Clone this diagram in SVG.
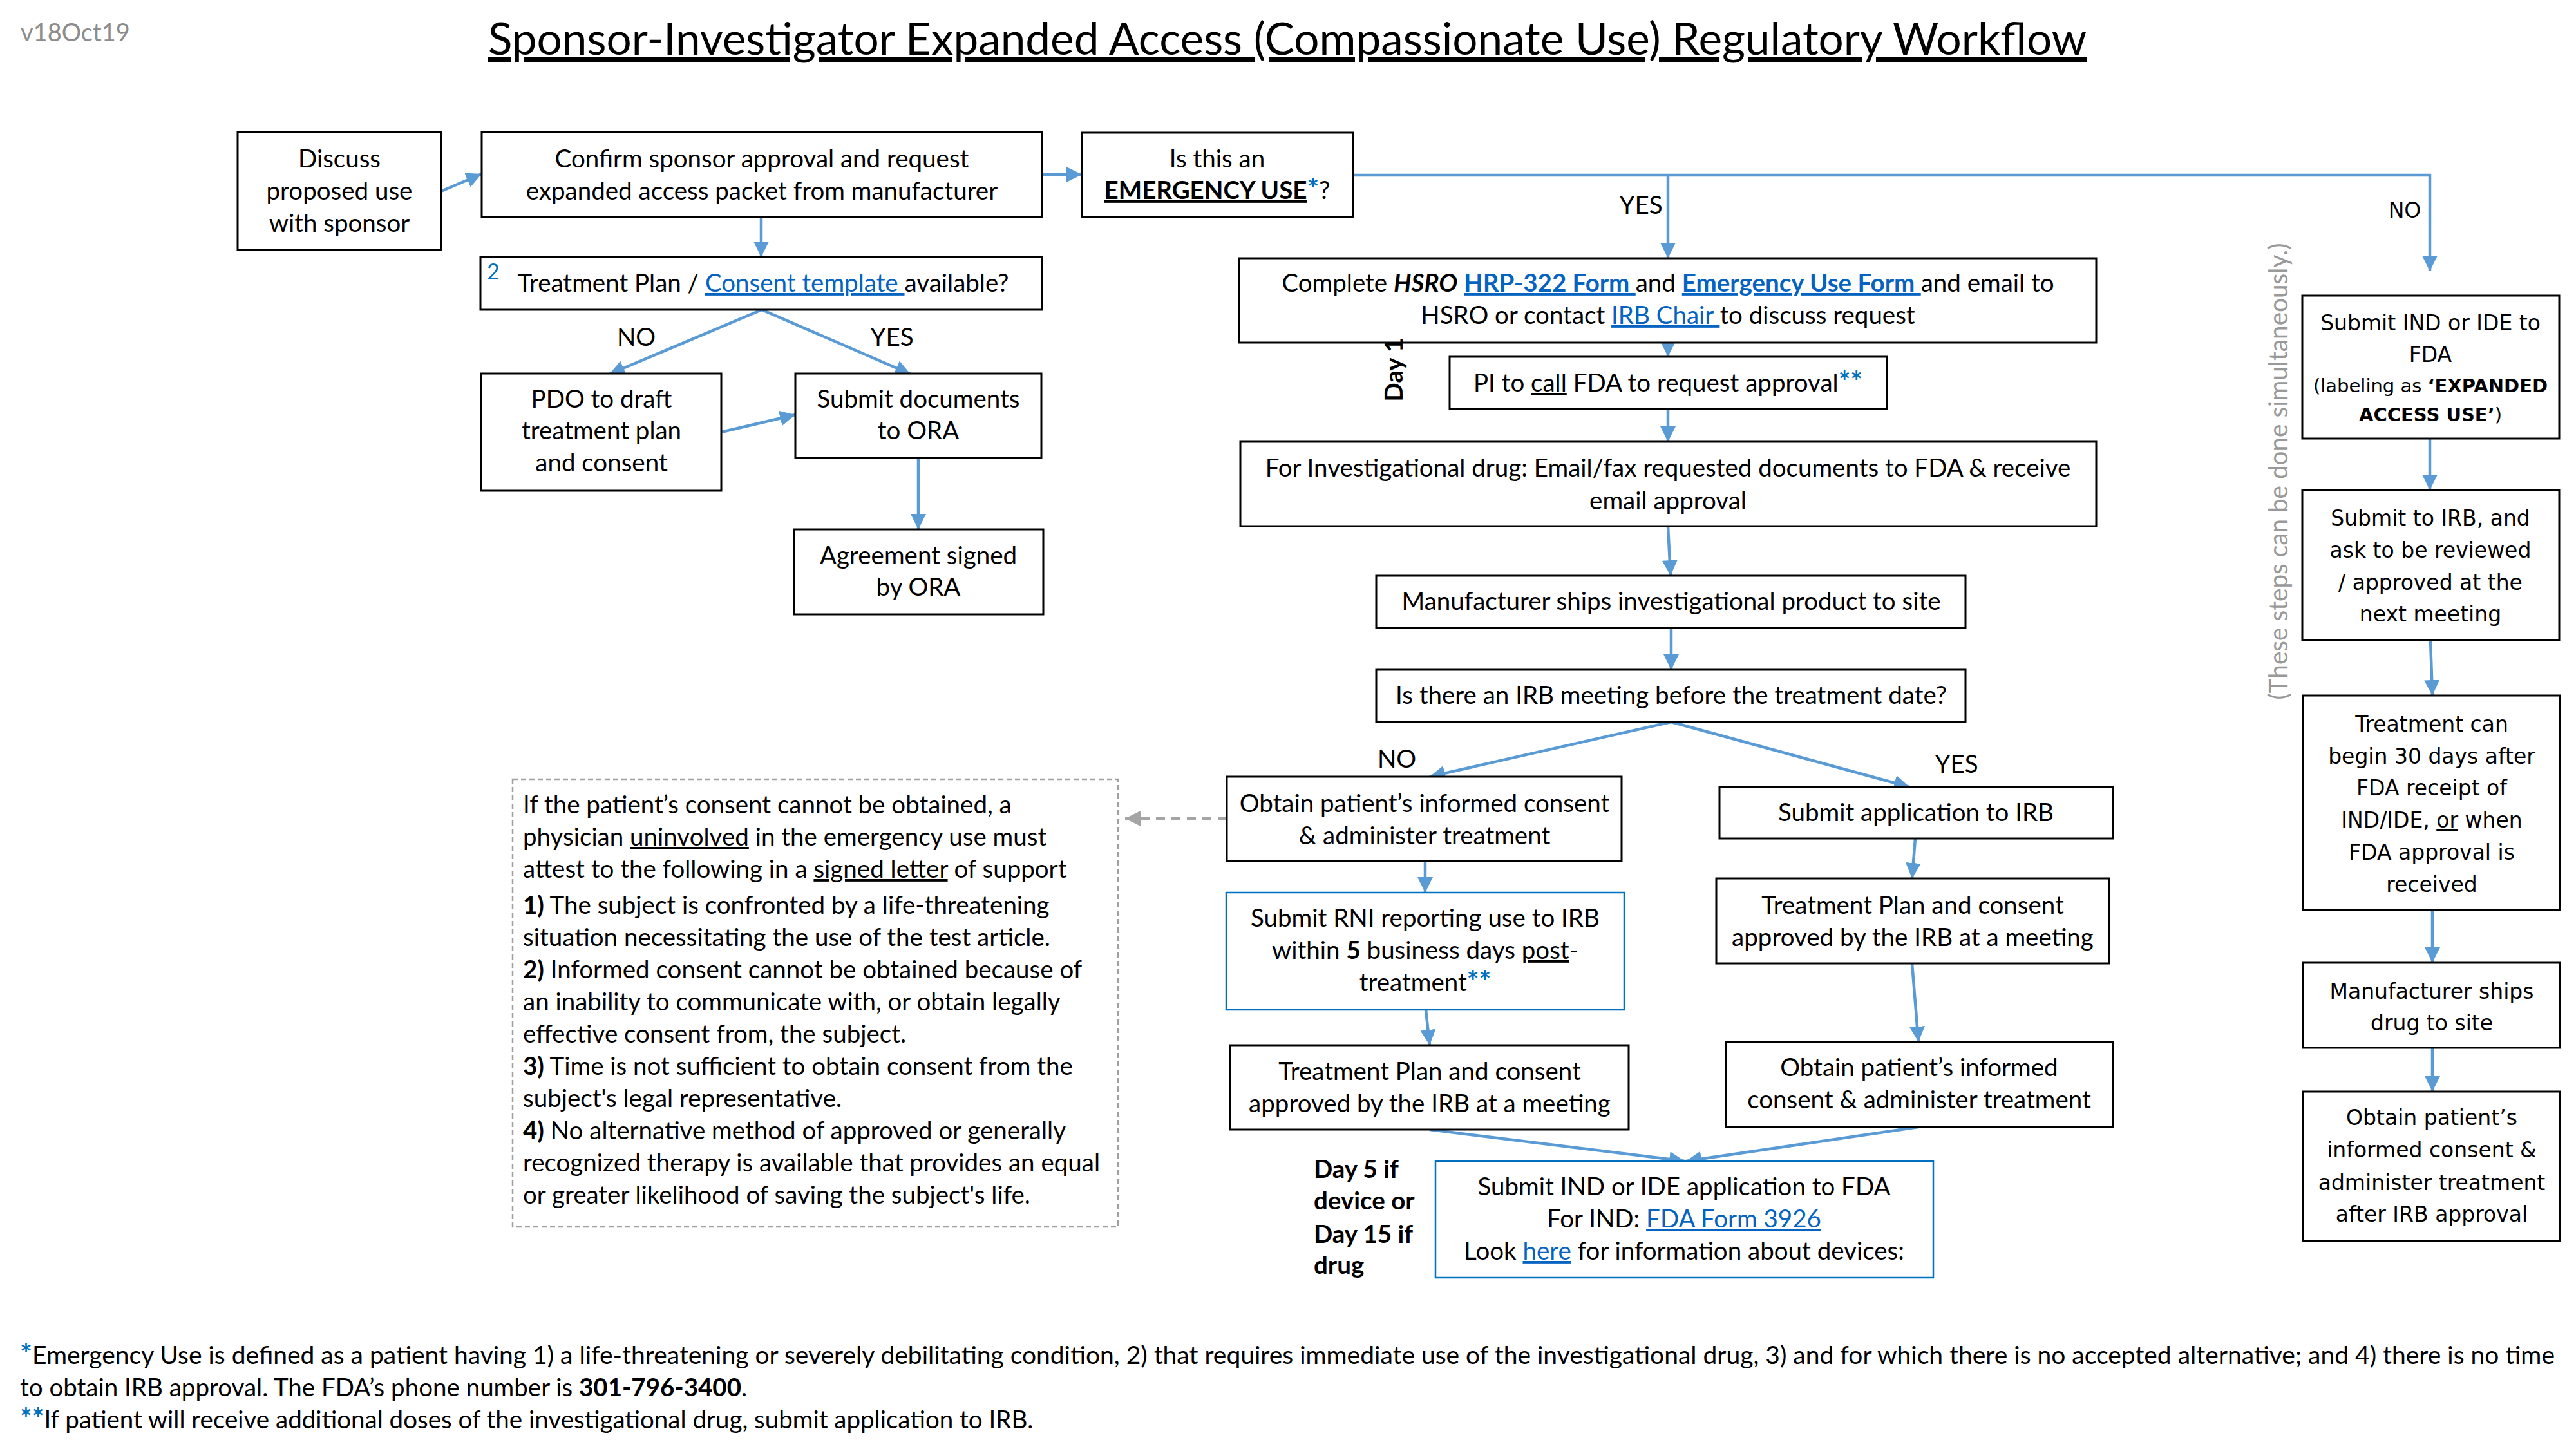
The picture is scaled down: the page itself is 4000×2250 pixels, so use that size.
<svg xmlns="http://www.w3.org/2000/svg" width="4000" height="2250" viewBox="0 0 4000 2250">
<style>
.c{font-family:Lato,"Liberation Sans",sans-serif;font-size:38.5px;fill:#000}
.v{font-family:"DejaVu Sans",Verdana,sans-serif;font-size:33px;fill:#000}
.m{text-anchor:middle}
.b{font-weight:bold}
.u{text-decoration:underline}
.lk{fill:#0563C1;text-decoration:underline}
.as{fill:#0070C0;font-weight:bold;font-size:44px}
.box{fill:#fff;stroke:#000;stroke-width:3}
.bbox{fill:#fff;stroke:#0070C0;stroke-width:2.5}
.conn{fill:none;stroke:#5B9BD5;stroke-width:4.5;marker-end:url(#arr)}
.dconn{fill:none;stroke:#A5A5A5;stroke-width:5;stroke-dasharray:14 10;marker-end:url(#garr)}
</style>
<defs>
<marker id="arr" markerUnits="userSpaceOnUse" markerWidth="24" markerHeight="24" refX="24" refY="12" orient="auto" viewBox="0 0 24 24"><path d="M0,0 L24,12 L0,24 z" fill="#5B9BD5"/></marker>
<marker id="garr" markerUnits="userSpaceOnUse" markerWidth="24" markerHeight="24" refX="24" refY="12" orient="auto" viewBox="0 0 24 24"><path d="M0,0 L24,12 L0,24 z" fill="#A5A5A5"/></marker>
</defs>
<rect width="4000" height="2250" fill="#fff"/>

<text class="c" x="32" y="64" style="fill:#8C8C8C;font-size:38px">v18Oct19</text>
<text class="c u" x="758" y="85" textLength="2482" lengthAdjust="spacingAndGlyphs" style="font-size:70px">Sponsor-Investigator Expanded Access (Compassionate Use) Regulatory Workflow</text>

<g id="connectors">
<path class="conn" d="M685,297 L748,270"/>
<path class="conn" d="M1618,271 L1680,271"/>
<path class="conn" d="M1182,337 L1182,399"/>
<path class="conn" d="M2101,272 L3773,272 L3773,421"/>
<path class="conn" d="M2590,272 L2590,401"/>
<path class="conn" d="M1183,481 L946,581"/>
<path class="conn" d="M1183,481 L1414,581"/>
<path class="conn" d="M1120,671 L1235,644"/>
<path class="conn" d="M1426,711 L1426,822"/>
<path class="conn" d="M2590,532 L2590,554"/>
<path class="conn" d="M2590,635 L2590,686"/>
<path class="conn" d="M2590,817 L2594,894"/>
<path class="conn" d="M2595,975 L2595,1040"/>
<path class="conn" d="M2595,1121 L2220,1206"/>
<path class="conn" d="M2595,1121 L2965,1222"/>
<path class="conn" d="M2213,1337 L2213,1386"/>
<path class="conn" d="M2214,1568 L2220,1623"/>
<path class="conn" d="M2974,1302 L2969,1364"/>
<path class="conn" d="M2969,1496 L2979,1618"/>
<path class="conn" d="M2220,1754 L2616,1803"/>
<path class="conn" d="M2979,1750 L2618,1803"/>
<path class="conn" d="M3773,681 L3773,761"/>
<path class="conn" d="M3774,994 L3777,1080"/>
<path class="conn" d="M3777,1413 L3777,1495"/>
<path class="conn" d="M3777,1627 L3777,1695"/>
<path class="dconn" d="M1905,1271 L1747,1271"/>
</g>

<g id="labels">
<text class="c m" x="2548" y="332">YES</text>
<text class="v m" x="3734" y="338">NO</text>
<text class="c m" x="988" y="537">NO</text>
<text class="c m" x="1385" y="537">YES</text>
<text class="c m" x="2169" y="1192">NO</text>
<text class="c m" x="3038" y="1200">YES</text>
</g>

<g id="n-discuss">
<rect class="box" x="369" y="205" width="316" height="183"/>
<text class="c m" x="527" y="260">Discuss</text>
<text class="c m" x="527" y="310">proposed use</text>
<text class="c m" x="527" y="360">with sponsor</text>
</g>
<g id="n-confirm">
<rect class="box" x="748" y="205" width="870" height="132"/>
<text class="c m" x="1183" y="260">Confirm sponsor approval and request</text>
<text class="c m" x="1183" y="310">expanded access packet from manufacturer</text>
</g>
<g id="n-emergency">
<rect class="box" x="1680" y="206" width="421" height="131"/>
<text class="c m" x="1890" y="260">Is this an</text>
<text class="c m" x="1890" y="309"><tspan class="b u">EMERGENCY USE</tspan><tspan class="as">*</tspan>?</text>
</g>
<g id="n-template">
<rect class="box" x="746" y="399" width="872" height="82"/>
<text class="c" x="756" y="434" style="fill:#0070C0;font-size:34px">2</text>
<text class="c m" x="1185" y="453">Treatment Plan / <tspan class="lk">Consent template </tspan>available?</text>
</g>
<g id="n-pdo">
<rect class="box" x="747" y="580" width="373" height="182"/>
<text class="c m" x="934" y="633">PDO to draft</text>
<text class="c m" x="934" y="682">treatment plan</text>
<text class="c m" x="934" y="732">and consent</text>
</g>
<g id="n-submitdocs">
<rect class="box" x="1235" y="580" width="382" height="131"/>
<text class="c m" x="1426" y="633">Submit documents</text>
<text class="c m" x="1426" y="682">to ORA</text>
</g>
<g id="n-agreement">
<rect class="box" x="1233" y="822" width="387" height="132"/>
<text class="c m" x="1426" y="876">Agreement signed</text>
<text class="c m" x="1426" y="925">by ORA</text>
</g>

<g id="n-complete">
<rect class="box" x="1924" y="401" width="1331" height="131"/>
<text class="c m" x="2590" y="453">Complete <tspan class="b" font-style="italic">HSRO</tspan> <tspan class="lk b">HRP-322 Form </tspan>and <tspan class="lk b">Emergency Use Form </tspan>and email to</text>
<text class="c m" x="2590" y="503">HSRO or contact <tspan class="lk">IRB Chair </tspan>to discuss request</text>
</g>
<g id="day1">
<text class="c m b" transform="translate(2178,574) rotate(-90)" x="0" y="0">Day 1</text>
</g>
<g id="n-pi">
<rect class="box" x="2251" y="554" width="679" height="81"/>
<text class="c m" x="2590" y="608">PI to <tspan class="u">call</tspan> FDA to request approval<tspan class="as">**</tspan></text>
</g>
<g id="n-forinv">
<rect class="box" x="1926" y="686" width="1329" height="131"/>
<text class="c m" x="2590" y="740">For Investigational drug: Email/fax requested documents to FDA &amp; receive</text>
<text class="c m" x="2590" y="791">email approval</text>
</g>
<g id="n-manuf">
<rect class="box" x="2137" y="894" width="915" height="81"/>
<text class="c m" x="2595" y="947">Manufacturer ships investigational product to site</text>
</g>
<g id="n-irbq">
<rect class="box" x="2137" y="1040" width="915" height="81"/>
<text class="c m" x="2595" y="1093">Is there an IRB meeting before the treatment date?</text>
</g>
<g id="n-obtain1">
<rect class="box" x="1905" y="1206" width="613" height="131"/>
<text class="c m" x="2212" y="1261">Obtain patient’s informed consent</text>
<text class="c m" x="2212" y="1311">&amp; administer treatment</text>
</g>
<g id="n-rni">
<rect class="bbox" x="1904" y="1386" width="618" height="182"/>
<text class="c m" x="2213" y="1439">Submit RNI reporting use to IRB</text>
<text class="c m" x="2213" y="1489">within <tspan class="b">5</tspan> business days <tspan class="u">post</tspan>-</text>
<text class="c m" x="2213" y="1539">treatment<tspan class="as">**</tspan></text>
</g>
<g id="n-tp1">
<rect class="box" x="1910" y="1623" width="619" height="131"/>
<text class="c m" x="2220" y="1677">Treatment Plan and consent</text>
<text class="c m" x="2220" y="1727">approved by the IRB at a meeting</text>
</g>
<g id="n-submitapp">
<rect class="box" x="2670" y="1222" width="611" height="80"/>
<text class="c m" x="2975" y="1275">Submit application to IRB</text>
</g>
<g id="n-tp2">
<rect class="box" x="2665" y="1364" width="610" height="132"/>
<text class="c m" x="2970" y="1419">Treatment Plan and consent</text>
<text class="c m" x="2970" y="1469">approved by the IRB at a meeting</text>
</g>
<g id="n-obtain2">
<rect class="box" x="2680" y="1618" width="601" height="132"/>
<text class="c m" x="2980" y="1671">Obtain patient’s informed</text>
<text class="c m" x="2980" y="1721">consent &amp; administer treatment</text>
</g>
<g id="day5">
<text class="c b" x="2040" y="1829">Day 5 if</text>
<text class="c b" x="2040" y="1878">device or</text>
<text class="c b" x="2040" y="1930">Day 15 if</text>
<text class="c b" x="2040" y="1978">drug</text>
</g>
<g id="n-submitind">
<rect class="bbox" x="2229" y="1803" width="773" height="181"/>
<text class="c m" x="2615" y="1856">Submit IND or IDE application to FDA</text>
<text class="c m" x="2615" y="1906">For IND: <tspan class="lk">FDA Form 3926</tspan></text>
<text class="c m" x="2615" y="1956">Look <tspan class="lk">here</tspan> for information about devices:</text>
</g>

<g id="n-note">
<rect x="796" y="1210" width="940" height="695" fill="#fff" stroke="#A0A0A0" stroke-width="2.5" stroke-dasharray="8 5"/>
<text class="c" x="812" y="1263">If the patient’s consent cannot be obtained, a</text>
<text class="c" x="812" y="1313">physician <tspan class="u">uninvolved</tspan> in the emergency use must</text>
<text class="c" x="812" y="1363">attest to the following in a <tspan class="u">signed letter</tspan> of support</text>
<text class="c" x="812" y="1419"><tspan class="b">1)</tspan> The subject is confronted by a life-threatening</text>
<text class="c" x="812" y="1469">situation necessitating the use of the test article.</text>
<text class="c" x="812" y="1519"><tspan class="b">2)</tspan> Informed consent cannot be obtained because of</text>
<text class="c" x="812" y="1569">an inability to communicate with, or obtain legally</text>
<text class="c" x="812" y="1619">effective consent from, the subject.</text>
<text class="c" x="812" y="1669"><tspan class="b">3)</tspan> Time is not sufficient to obtain consent from the</text>
<text class="c" x="812" y="1719">subject's legal representative.</text>
<text class="c" x="812" y="1769"><tspan class="b">4)</tspan> No alternative method of approved or generally</text>
<text class="c" x="812" y="1819">recognized therapy is available that provides an equal</text>
<text class="c" x="812" y="1869">or greater likelihood of saving the subject's life.</text>
</g>

<g id="n-r1">
<rect class="box" x="3575" y="459" width="399" height="222"/>
<text class="v m" x="3774" y="513">Submit IND or IDE to</text>
<text class="v m" x="3774" y="562">FDA</text>
<text class="v m" x="3774" y="609" style="font-size:29px">(labeling as <tspan class="b">‘EXPANDED</tspan></text>
<text class="v m b" x="3774" y="654" style="font-size:29px">ACCESS USE’<tspan font-weight="normal">)</tspan></text>
</g>
<g id="n-r2">
<rect class="box" x="3575" y="761" width="399" height="233"/>
<text class="v m" x="3774" y="816">Submit to IRB, and</text>
<text class="v m" x="3774" y="866">ask to be reviewed</text>
<text class="v m" x="3774" y="916">/ approved at the</text>
<text class="v m" x="3774" y="965">next meeting</text>
</g>
<g id="n-r3">
<rect class="box" x="3576" y="1080" width="399" height="333"/>
<text class="v m" x="3776" y="1136">Treatment can</text>
<text class="v m" x="3776" y="1186">begin 30 days after</text>
<text class="v m" x="3776" y="1235">FDA receipt of</text>
<text class="v m" x="3776" y="1285">IND/IDE, <tspan class="u">or</tspan> when</text>
<text class="v m" x="3776" y="1335">FDA approval is</text>
<text class="v m" x="3776" y="1385">received</text>
</g>
<g id="n-r4">
<rect class="box" x="3576" y="1495" width="399" height="132"/>
<text class="v m" x="3776" y="1551">Manufacturer ships</text>
<text class="v m" x="3776" y="1600">drug to site</text>
</g>
<g id="n-r5">
<rect class="box" x="3576" y="1695" width="399" height="232"/>
<text class="v m" x="3776" y="1747">Obtain patient’s</text>
<text class="v m" x="3776" y="1797">informed consent &amp;</text>
<text class="v m" x="3776" y="1848">administer treatment</text>
<text class="v m" x="3776" y="1897">after IRB approval</text>
</g>
<text class="c m" transform="translate(3552,732) rotate(-90)" x="0" y="0" textLength="709" lengthAdjust="spacingAndGlyphs" style="fill:#999999;font-size:40px">(These steps can be done simultaneously.)</text>

<g id="footnotes">
<text class="c" x="31" y="2118" textLength="3936" lengthAdjust="spacingAndGlyphs"><tspan class="as">*</tspan>Emergency Use is defined as a patient having 1) a life-threatening or severely debilitating condition, 2) that requires immediate use of the investigational drug, 3) and for which there is no accepted alternative; and 4) there is no time</text>
<text class="c" x="31" y="2168">to obtain IRB approval. The FDA’s phone number is <tspan class="b">301-796-3400</tspan>.</text>
<text class="c" x="31" y="2218"><tspan class="as">**</tspan>If patient will receive additional doses of the investigational drug, submit application to IRB.</text>
</g>
</svg>
